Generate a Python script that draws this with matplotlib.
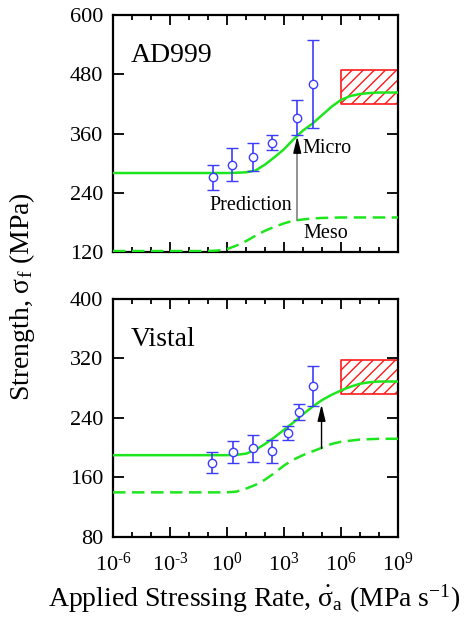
import numpy as np
import matplotlib
matplotlib.use("Agg")
import matplotlib.pyplot as plt
from matplotlib.ticker import NullFormatter

plt.rcParams['font.family'] = ['Liberation Serif', 'DejaVu Serif']
plt.rcParams['mathtext.fontset'] = 'custom'
plt.rcParams['mathtext.rm'] = 'Liberation Serif'
plt.rcParams['mathtext.it'] = 'Liberation Serif:italic'
plt.rcParams['mathtext.bf'] = 'Liberation Serif:bold'
plt.rcParams['hatch.linewidth'] = 1.0

# ---------------- data ----------------
# AD999 (top)
ad_exp_logx = [-0.72, 0.28, 1.38, 2.35, 3.67, 4.51]
ad_exp_y = [271, 297, 312, 341, 392, 461]
ad_exp_err = [25, 34, 28, 15, 36, 89]

ad_micro_logx = [-6, -3, 0, 0.5, 1, 1.5, 2, 2.5, 3, 3.5, 4, 4.5, 5, 5.5, 6, 6.5, 7, 7.5, 8, 9]
ad_micro_y = [280, 280, 280, 280.5, 281.5, 285, 297, 312, 328, 348, 366, 380, 397, 414, 428, 436, 440, 442, 443, 443]

ad_meso_logx = [-6, -3, -1, -0.5, 0, 0.5, 1, 1.5, 2, 2.5, 3, 3.5, 4, 4.5, 5, 6, 7, 9]
ad_meso_y = [122, 122, 122, 123, 126, 133, 142, 153, 163, 171, 178, 183.5, 186, 188, 189, 190, 190, 190]

ad_box_x = [1e6, 1e9]
ad_box_y = [420, 488]

# Vistal (bottom)
vi_exp_logx = [-0.81, 0.33, 1.38, 2.35, 3.23, 3.77, 4.51]
vi_exp_y = [180, 194, 199, 195, 220, 248, 283]
vi_exp_err = [14, 15, 18, 15, 9, 11, 27]

vi_micro_logx = [-6, -3, 0, 0.5, 1, 1.5, 2, 2.5, 3, 3.5, 4, 4.5, 5, 5.5, 6, 6.5, 7, 7.5, 8, 9]
vi_micro_y = [190, 190, 190, 190.5, 192, 197, 205, 214, 224, 234, 245, 255, 264, 271, 277, 282, 286, 288, 289, 289]

vi_meso_logx = [-6, -3, 0, 0.5, 1, 1.5, 2, 2.5, 3, 3.5, 4, 4.5, 5, 5.5, 6, 7, 8, 9]
vi_meso_y = [140, 140, 140, 141, 145, 150, 157, 166, 176, 184, 190, 195, 200, 205, 208, 211, 212, 212]

vi_box_x = [1e6, 1e9]
vi_box_y = [272, 318]

xtick_vals = [1e-6, 1e-3, 1e0, 1e3, 1e6, 1e9]
xtick_labels = ['$10^{\u20106}$', '$10^{\u20103}$', '$10^{0}$', '$10^{3}$', '$10^{6}$', '$10^{9}$']
ad_yticks = [120, 240, 360, 480, 600]
vi_yticks = [80, 160, 240, 320, 400]

GREEN = '#1ee61e'
BLUE = '#3c3cff'
RED = '#ff1a1a'

fig = plt.figure(figsize=(4.67, 6.2), dpi=100)
ax1 = fig.add_axes([0.242, 0.5935, 0.610, 0.3823])
ax2 = fig.add_axes([0.242, 0.1339, 0.610, 0.3839])


def style(ax, yticks, ylim):
    ax.set_xscale('log')
    ax.set_xlim(1e-6, 1e9)
    ax.set_ylim(*ylim)
    ax.set_yticks(yticks)
    ax.set_yticklabels([str(v) for v in yticks], fontsize=16)
    ax.set_xticks(xtick_vals)
    ax.set_xticks([10.0 ** k for k in range(-6, 10)], minor=True)
    ax.xaxis.set_minor_formatter(NullFormatter())
    ax.tick_params(which='both', direction='in', top=True, right=True, width=1.3)
    ax.tick_params(axis='x', which='major', length=7)
    ax.tick_params(axis='x', which='minor', length=3.5)
    ax.tick_params(axis='y', which='major', length=8, pad=7)
    ax.tick_params(axis='y', which='minor', length=0)
    for s in ax.spines.values():
        s.set_linewidth(1.6)


def draw(ax, exp_logx, exp_y, exp_err, mic_logx, mic_y, mes_logx, mes_y, box_x, box_y):
    ax.fill_between(box_x, box_y[0], box_y[1], facecolor='white', edgecolor=RED,
                    hatch='///', linewidth=1.2, zorder=2)
    ax.plot(10.0 ** np.array(mes_logx), mes_y, color=GREEN, lw=1.8, dashes=(5, 2.6), zorder=3)
    ax.plot(10.0 ** np.array(mic_logx), mic_y, color=GREEN, lw=1.8, zorder=3)
    ax.errorbar(10.0 ** np.array(exp_logx), exp_y, yerr=exp_err, fmt='o', color=BLUE,
                mfc='white', mec=BLUE, ms=6, mew=1.0, elinewidth=1.2, capsize=4.5,
                capthick=1.2, zorder=4)


style(ax1, ad_yticks, (120, 600))
ax1.set_xticklabels([])
draw(ax1, ad_exp_logx, ad_exp_y, ad_exp_err, ad_micro_logx, ad_micro_y,
     ad_meso_logx, ad_meso_y, ad_box_x, ad_box_y)
ax1.plot([10 ** 3.7, 10 ** 3.7], [185, 330], color='#808080', lw=1.2, zorder=5)
ax1.annotate('', xy=(10 ** 3.7, 354), xytext=(10 ** 3.7, 320),
             arrowprops=dict(arrowstyle='-|>,head_length=0.9,head_width=0.22',
                             color='black', lw=1.0,
                             shrinkA=0, shrinkB=0, mutation_scale=11), zorder=5)
ax1.text(10 ** -5.07, 505, 'AD999', fontsize=20, ha='left', va='baseline')
ax1.text(10 ** 4.0, 321, 'Micro', fontsize=14.5, ha='left', va='baseline')
ax1.text(10 ** 3.42, 205, 'Prediction', fontsize=14.5, ha='right', va='baseline')
ax1.text(10 ** 4.02, 148, 'Meso', fontsize=14.5, ha='left', va='baseline')

style(ax2, vi_yticks, (80, 400))
ax2.set_xticklabels(xtick_labels, fontsize=16)
ax2.tick_params(axis='x', which='major', pad=11)
draw(ax2, vi_exp_logx, vi_exp_y, vi_exp_err, vi_micro_logx, vi_micro_y,
     vi_meso_logx, vi_meso_y, vi_box_x, vi_box_y)
ax2.annotate('', xy=(10 ** 4.98, 258), xytext=(10 ** 4.98, 199),
             arrowprops=dict(arrowstyle='-|>,head_length=0.9,head_width=0.22',
                             color='black', lw=1.0, shrinkA=0, shrinkB=0,
                             mutation_scale=11), zorder=5)
ax2.text(10 ** -5.07, 337, 'Vistal', fontsize=20, ha='left', va='baseline')

fig.text(0.047, 0.521, r'Strength, $\mathrm{\sigma}_\mathrm{f}$ (MPa)', rotation=90,
         fontsize=20, ha='center', va='center')
fig.text(0.544, 0.021, r'Applied Stressing Rate, $\dot{\mathrm{\sigma}}_\mathrm{a}$ (MPa s$^{-1}$)',
         fontsize=20, ha='center', va='baseline')

fig.savefig('out.png', dpi=100)
